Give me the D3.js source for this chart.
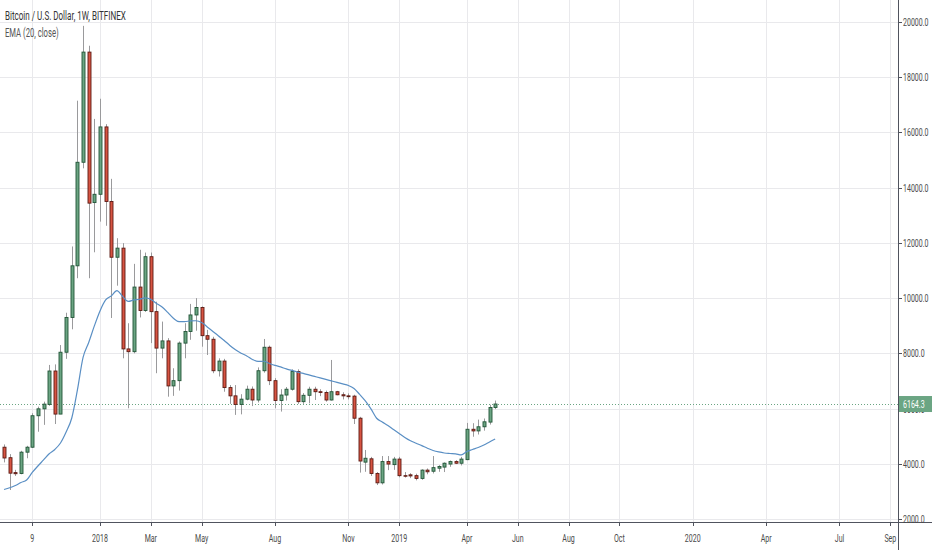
<!DOCTYPE html>
<html>
<head>
<meta charset="utf-8">
<script src="https://d3js.org/d3.v7.min.js"></script>
<style>
  body { margin: 0; background: #fff; }
  svg text { font-family: Roboto, "Liberation Sans", sans-serif; }
</style>
</head>
<body>
<div id="chart"></div>
<script>
'use strict';

// weekly bars, BTC/USD Bitfinex
var weeks = [
  '2017-09-04','2017-09-11','2017-09-18','2017-09-25','2017-10-02','2017-10-09','2017-10-16','2017-10-23','2017-10-30',
  '2017-11-06','2017-11-13','2017-11-20','2017-11-27','2017-12-04','2017-12-11','2017-12-18','2017-12-25',
  '2018-01-01','2018-01-08','2018-01-15','2018-01-22','2018-01-29','2018-02-05','2018-02-12','2018-02-19','2018-02-26',
  '2018-03-05','2018-03-12','2018-03-19','2018-03-26','2018-04-02','2018-04-09','2018-04-16','2018-04-23','2018-04-30',
  '2018-05-07','2018-05-14','2018-05-21','2018-05-28','2018-06-04','2018-06-11','2018-06-18','2018-06-25','2018-07-02',
  '2018-07-09','2018-07-16','2018-07-23','2018-07-30','2018-08-06','2018-08-13','2018-08-20','2018-08-27','2018-09-03',
  '2018-09-10','2018-09-17','2018-09-24','2018-10-01','2018-10-08','2018-10-15','2018-10-22','2018-10-29','2018-11-05',
  '2018-11-12','2018-11-19','2018-11-26','2018-12-03','2018-12-10','2018-12-17','2018-12-24','2018-12-31',
  '2019-01-07','2019-01-14','2019-01-21','2019-01-28','2019-02-04','2019-02-11','2019-02-18','2019-02-25','2019-03-04',
  '2019-03-11','2019-03-18','2019-03-25','2019-04-01','2019-04-08','2019-04-15','2019-04-22','2019-04-29','2019-05-06'
];

var openP = [4600,4220,3680,3650,4420,4600,5740,5990,6150,7360,5800,8040,9300,11170,14920,18910,13460,
  13760,16200,13500,11480,11810,8160,8060,10400,9550,11500,9510,8190,8450,6820,7010,8370,8790,9390,9660,8640,8510,
  7370,7720,6760,6460,6150,6340,6700,6310,7370,8220,7010,6290,6490,6700,7340,6250,6480,6700,6610,6580,6310,6610,
  6500,6460,6450,5650,4060,4180,3650,3310,4080,3970,
  4170,3570,3600,3570,3470,3770,3730,3840,3880,3990,4080,4020,4150,5250,5190,5340,5510,6040];

var highP = [4700,4350,3780,4470,4650,5830,6070,6250,7580,7600,8300,9470,11870,17150,19860,19140,16490,
  17220,16300,14320,12170,11990,9090,11240,11750,11650,11650,9870,9150,8550,7460,8430,9090,9790,10000,9700,8850,8600,
  7820,7800,6850,6850,6520,6830,6800,7490,8520,8280,7100,6700,6780,7420,7420,6560,6790,6790,6700,6650,7760,6640,
  6590,6550,6500,5700,4500,4250,3700,4280,4280,4250,
  4250,3700,3660,3640,3800,3830,4280,3950,4050,4120,4130,4250,5480,5470,5600,5640,6140,6290];

var lowP = [4050,3050,3560,3620,4200,4570,5160,5410,6100,5440,5800,7800,8870,10720,14700,10720,11660,
  12770,12620,9280,10450,7820,6010,8000,9300,9500,8370,7280,7820,6430,6460,6650,7820,8490,8820,8240,7940,7280,
  7160,6610,6170,5770,5790,6300,6090,6220,7300,6850,6010,5890,6290,6650,6170,6170,6190,6310,6450,6250,6290,6480,
  6330,6330,5440,3680,3710,3560,3230,3250,3770,3780,
  3510,3500,3480,3400,3420,3620,3650,3710,3700,3890,3990,3940,4130,4980,5060,5200,5420,5980];

var closeP = [4210,3660,3640,4420,4600,5740,5990,6160,7360,5800,8040,9300,11170,14920,18910,13440,13760,
  16200,13500,11480,11810,8160,8060,10400,9550,11500,9510,8190,8450,6820,7010,8370,8790,9390,9660,8640,8510,7370,
  7720,6760,6460,6150,6340,6700,6310,7370,8220,7010,6290,6490,6700,7340,6250,6480,6700,6610,6580,6310,6610,6500,
  6460,6430,5650,4100,4200,3650,3310,4080,3990,4170,
  3570,3550,3560,3470,3770,3710,3860,3900,4020,4080,4020,4170,5250,5190,5340,5520,6040,6164.3];

// EMA(20, close)
var emaP = [3069,3130,3214,3322,3413,3685,3920,4138,4362,4518,4754,5152,5659,6674,7851,8395,8993,
  9536,9935,10080,10272,10062,9880,9935,9960,10007,9953,9808,9681,9482,9272,9149,9149,9174,9181,9120,8957,8793,
  8630,8467,8286,8130,8004,7906,7779,7706,7714,7634,7562,7507,7435,7380,7319,7272,7217,7163,7109,7054,7000,6946,
  6891,6837,6728,6511,6275,5986,5649,5514,5388,5239,
  5094,4953,4833,4743,4656,4562,4482,4428,4391,4373,4359,4319,4446,4518,4591,4681,4790,4899];

var tickDates = ['2017-10-09','2018-01-01','2018-03-05','2018-05-07','2018-08-06','2018-11-05','2019-01-07',
  '2019-04-01','2019-06-03','2019-08-05','2019-10-07','2020-01-06','2020-04-06','2020-07-06','2020-09-07'];
var tickLabels = ['9','2018','Mar','May','Aug','Nov','2019','Apr','Jun','Aug','Oct','2020','Apr','Jul','Sep'];

var priceTicks = [2000,4000,6000,8000,10000,12000,14000,16000,18000,20000];
var lastPrice = 6164.3;

var width = 932, height = 550,
    plotRight = 898, plotBottom = 522;

var upFill = '#6ba583', upLine = '#225437',
    downFill = '#d75442', downLine = '#5b1a13';

var parse = d3.utcParse('%Y-%m-%d');

var x = d3.scaleUtc()
  .domain([parse('2018-01-01'), parse('2020-01-06')])
  .range([100, 100 + 105 * 5.645]);

var y = d3.scaleLinear().domain([2000, 20000]).range([519, 22]);

var bars = weeks.map(function(w, i) {
  return { date: parse(w), o: openP[i], h: highP[i], l: lowP[i], c: closeP[i], ema: emaP[i] };
});

var svg = d3.select('#chart').append('svg')
  .attr('width', width).attr('height', height);

svg.append('rect').attr('width', width).attr('height', height).attr('fill', '#fff');

svg.append('clipPath').attr('id', 'plot-clip')
  .append('rect').attr('width', plotRight).attr('height', plotBottom);

// the screenshot's text is squeezed horizontally, do the same with a scale
function squeeze(sel, k) {
  sel.each(function() {
    var t = d3.select(this);
    var tx = +t.attr('x'), ty = +t.attr('y');
    t.attr('x', 0).attr('y', 0)
      .attr('transform', 'translate(' + tx + ',' + ty + ') scale(' + k + ',1)');
  });
}

// grid
var grid = svg.append('g').attr('class', 'grid');
grid.selectAll('line.v').data(tickDates).enter().append('line')
  .attr('x1', function(d) { return Math.round(x(parse(d))) + 0.5; })
  .attr('x2', function(d) { return Math.round(x(parse(d))) + 0.5; })
  .attr('y1', 0).attr('y2', plotBottom)
  .attr('stroke', '#e9e9ec').attr('stroke-width', 1);
grid.selectAll('line.h').data(priceTicks).enter().append('line')
  .attr('x1', 0).attr('x2', plotRight)
  .attr('y1', function(d) { return Math.round(y(d)) + 0.5; })
  .attr('y2', function(d) { return Math.round(y(d)) + 0.5; })
  .attr('stroke', '#e9e9ec').attr('stroke-width', 1);

var plot = svg.append('g').attr('clip-path', 'url(#plot-clip)');

// last price line
plot.append('line')
  .attr('x1', 0).attr('x2', plotRight)
  .attr('y1', Math.round(y(lastPrice)) + 0.5).attr('y2', Math.round(y(lastPrice)) + 0.5)
  .attr('stroke', upFill).attr('stroke-width', 1).attr('stroke-dasharray', '1,2');

// wicks
plot.selectAll('line.wick').data(bars).enter().append('line')
  .attr('class', 'wick')
  .attr('x1', function(d) { return Math.round(x(d.date)) + 0.5; })
  .attr('x2', function(d) { return Math.round(x(d.date)) + 0.5; })
  .attr('y1', function(d) { return y(d.h); })
  .attr('y2', function(d) { return y(d.l); })
  .attr('stroke', '#9a9a9c').attr('stroke-width', 1);

// bodies
plot.selectAll('rect.body').data(bars).enter().append('rect')
  .attr('class', 'body')
  .attr('x', function(d) { return Math.round(x(d.date)) - 1.5 + 0.5; })
  .attr('width', 3)
  .attr('y', function(d) { return y(Math.max(d.o, d.c)); })
  .attr('height', function(d) { return Math.max(0.6, Math.abs(y(d.o) - y(d.c))); })
  .attr('fill', function(d) { return d.c >= d.o ? upFill : downFill; })
  .attr('stroke', function(d) { return d.c >= d.o ? upLine : downLine; })
  .attr('stroke-width', 0.9);

// EMA
plot.append('path').datum(bars)
  .attr('fill', 'none')
  .attr('stroke', '#5a8fc4').attr('stroke-width', 1.2)
  .attr('d', d3.line().x(function(d) { return x(d.date); }).y(function(d) { return y(d.ema); }).curve(d3.curveMonotoneX));

// axes lines
svg.append('line').attr('x1', 0).attr('x2', width).attr('y1', plotBottom + 0.5).attr('y2', plotBottom + 0.5)
  .attr('stroke', '#50535e').attr('stroke-width', 1);
svg.append('line').attr('x1', plotRight + 0.5).attr('x2', plotRight + 0.5).attr('y1', 0).attr('y2', height)
  .attr('stroke', '#50535e').attr('stroke-width', 1);

// bottom ticks + labels
var xt = svg.append('g');
xt.selectAll('line').data(tickDates).enter().append('line')
  .attr('x1', function(d) { return Math.round(x(parse(d))) + 0.5; })
  .attr('x2', function(d) { return Math.round(x(parse(d))) + 0.5; })
  .attr('y1', plotBottom).attr('y2', plotBottom + 4)
  .attr('stroke', '#50535e');
xt.selectAll('text').data(tickDates).enter().append('text')
  .attr('x', function(d) { return x(parse(d)); })
  .attr('y', 542)
  .attr('text-anchor', 'middle')
  .attr('font-size', 11).attr('fill', '#4a4a4a')
  .text(function(d, i) { return tickLabels[i]; })
  .call(squeeze, 0.64);

// right ticks + labels
var yt = svg.append('g');
yt.selectAll('line').data(priceTicks).enter().append('line')
  .attr('x1', plotRight).attr('x2', plotRight + 4)
  .attr('y1', function(d) { return Math.round(y(d)) + 0.5; })
  .attr('y2', function(d) { return Math.round(y(d)) + 0.5; })
  .attr('stroke', '#50535e');
yt.selectAll('text').data(priceTicks).enter().append('text')
  .attr('x', plotRight + 5)
  .attr('y', function(d) { return y(d) + 4; })
  .attr('font-size', 11).attr('fill', '#4a4a4a')
  .text(function(d) { return d3.format('.1f')(d); })
  .call(squeeze, 0.64);

// last price tag
var tagY = y(lastPrice);
svg.append('rect')
  .attr('x', plotRight + 1).attr('y', tagY - 8).attr('width', width - plotRight - 1).attr('height', 16)
  .attr('fill', upFill);
svg.append('text')
  .attr('x', plotRight + 5).attr('y', tagY + 4)
  .attr('font-size', 11).attr('fill', '#fff')
  .text(d3.format('.1f')(lastPrice))
  .call(squeeze, 0.64);

// legend
svg.append('text').attr('x', 5).attr('y', 20)
  .attr('font-size', 12).attr('fill', '#333')
  .text('Bitcoin / U.S. Dollar, 1W, BITFINEX')
  .call(squeeze, 0.67);
svg.append('text').attr('x', 5).attr('y', 37)
  .attr('font-size', 12).attr('fill', '#555')
  .text('EMA (20, close)')
  .call(squeeze, 0.64);
</script>
</body>
</html>
